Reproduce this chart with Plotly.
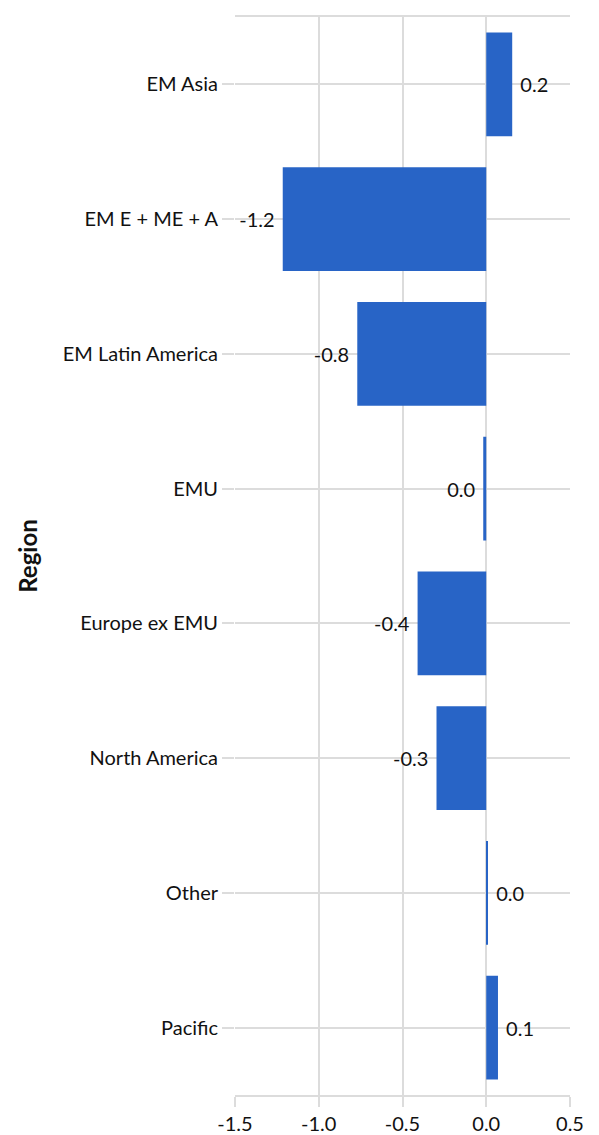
import plotly.graph_objects as go

regions = ["EM Asia", "EM E + ME + A", "EM Latin America", "EMU",
           "Europe ex EMU", "North America", "Other", "Pacific"]
values = [0.155, -1.215, -0.77, -0.018, -0.41, -0.297, 0.006, 0.07]
xTicks = [-1.5, -1.0, -0.5, 0.0, 0.5]
xTickText = ["-1.5", "-1.0", "-0.5", "0.0", "0.5"]

GRID = "#dcdcdc"
BAR = "#2864c6"


def fmtLabel(v):
    s = "{:.1f}".format(v)
    if s == "-0.0":
        s = "0.0"
    # small gap between bar end and label, like the original
    return (s + "\u00a0") if v < 0 else ("\u00a0" + s)


labels = [fmtLabel(v) for v in values]

fig = go.Figure()
fig.add_trace(go.Bar(
    x=values,
    y=regions,
    orientation="h",
    marker=dict(color=BAR, line=dict(width=0)),
    text=labels,
    textposition="outside",
    textfont=dict(size=20, color="#111111"),
    cliponaxis=False,
))

fig.update_layout(
    width=599,
    height=1135,
    margin=dict(l=227, r=37, t=7, b=48),
    plot_bgcolor="white",
    paper_bgcolor="white",
    font=dict(family="Lato, Open Sans, sans-serif", size=20, color="#111111"),
    bargap=0.23,
    showlegend=False,
)
fig.update_xaxes(
    range=[-1.5, 0.5],
    tickvals=xTicks,
    ticktext=xTickText,
    showgrid=True, gridcolor=GRID, gridwidth=2,
    zeroline=False,
    showline=True, linecolor=GRID, linewidth=2, mirror=True,
    ticks="outside", ticklen=10, tickcolor=GRID, tickwidth=2,
)
fig.update_yaxes(
    autorange="reversed",
    title=dict(text="<b>Region</b>", standoff=18),
    showgrid=True, gridcolor=GRID, gridwidth=2,
    showline=False,
    ticks="outside", ticklen=12, tickcolor=GRID, tickwidth=2,
)

fig.write_html("out.html")
